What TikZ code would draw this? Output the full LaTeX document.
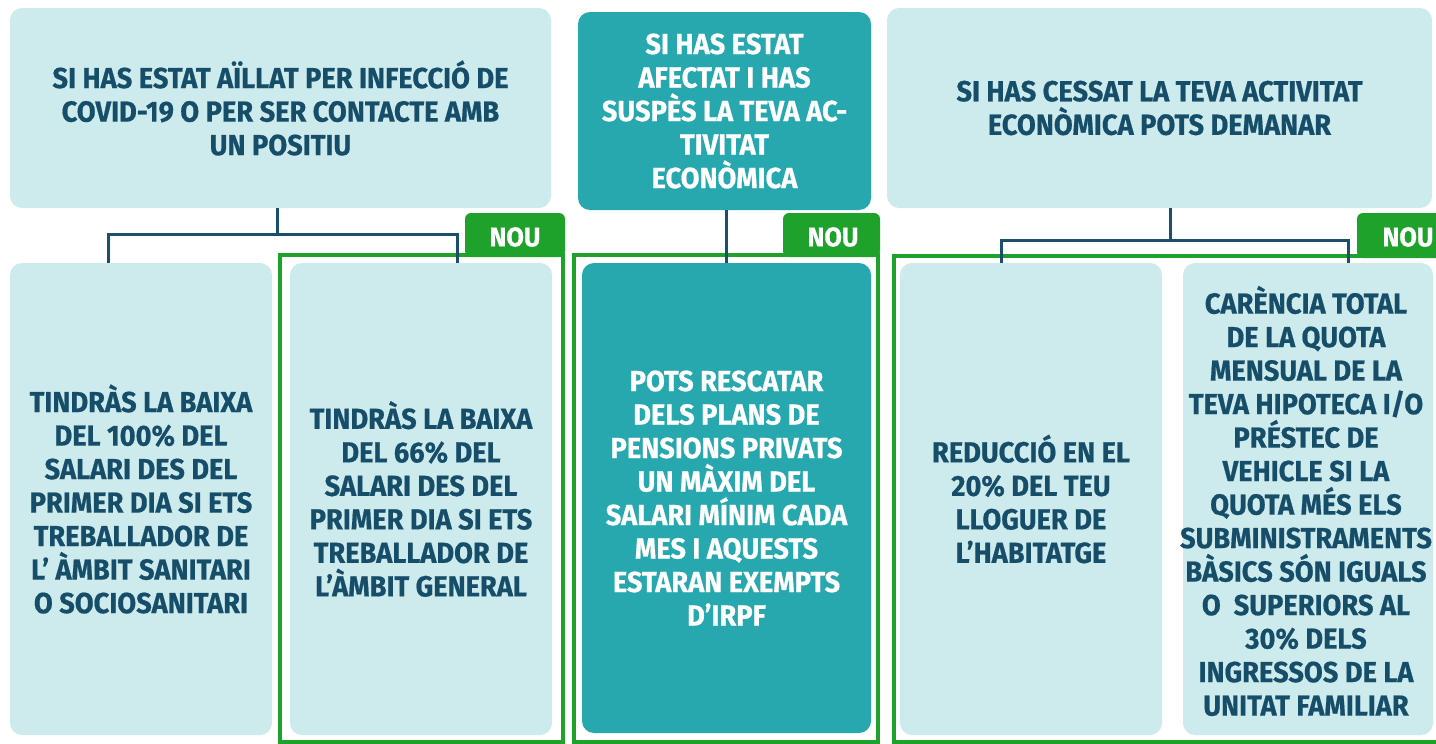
\documentclass[tikz,border=0pt]{standalone}
\usepackage{fontspec}
\setmainfont{Fira Sans}[FakeStretch=0.94, BoldFeatures={FakeBold=0.6}]
\definecolor{lightbox}{HTML}{CDEAED}
\definecolor{tealbox}{HTML}{27A7AE}
\definecolor{darktext}{HTML}{164E69}
\definecolor{connc}{HTML}{1B4F6B}
\definecolor{greenc}{HTML}{1FA22C}
\tikzset{
  box/.style={rounded corners=12pt, inner sep=0pt, anchor=center},
  lightb/.style={box, fill=lightbox, text=darktext},
  tealb/.style={box, fill=tealbox, text=white},
  txt/.style={align=center, font=\fontsize{29}{33.5}\selectfont\bfseries},
  conn/.style={draw=connc, line width=3pt},
  frame/.style={draw=greenc, line width=4pt},
  tab/.style={fill=greenc, rounded corners=6pt},
  noulabel/.style={text=white, font=\fontsize{27}{30}\selectfont\bfseries}
}
\begin{document}
\begin{tikzpicture}[x=1pt,y=-1pt]
\useasboundingbox (0,0) rectangle (1436,744);
\clip (0,0) rectangle (1436,744);
\fill[white] (0,0) rectangle (1436,744);

% top boxes
\node[lightb, minimum width=541pt, minimum height=200pt, txt] (A) at (280.5,108)
  {SI HAS ESTAT AÏLLAT PER INFECCIÓ DE\\COVID-19 O PER SER CONTACTE AMB\\UN POSITIU};
\node[tealb, minimum width=293pt, minimum height=198pt, txt] (B) at (724.5,111)
  {SI HAS ESTAT\\AFECTAT I HAS\\SUSPÈS LA TEVA AC-\\TIVITAT\\ECONÒMICA};
\node[lightb, minimum width=545pt, minimum height=200pt, txt] (C) at (1159.5,108)
  {SI HAS CESSAT LA TEVA ACTIVITAT\\ECONÒMICA POTS DEMANAR};

% green frames and tabs
\draw[frame] (280,255) rectangle (563,742);
\fill[tab] (465,257) -- (465,213) -- (565,213) -- (565,257) -- cycle;
\node[noulabel] (nou1) at (515,237) {NOU};
\draw[frame] (574,255) rectangle (878,742);
\fill[tab] (783,257) -- (783,213) -- (880,213) -- (880,257) -- cycle;
\node[noulabel] (nou2) at (833,237) {NOU};
\draw[frame] (894,256) rectangle (1450,742);
\fill[tab] (1357,258) -- (1357,213) -- (1460,213) -- (1460,258) -- cycle;
\node[noulabel] (nou3) at (1408,237) {NOU};

% bottom boxes
\node[lightb, minimum width=262pt, minimum height=472pt, txt] (D1) at (141,499)
  {TINDRÀS LA BAIXA\\DEL 100\% DEL\\SALARI DES DEL\\PRIMER DIA SI ETS\\TREBALLADOR DE\\L’ ÀMBIT SANITARI\\O SOCIOSANITARI};
\node[lightb, minimum width=262pt, minimum height=472pt, txt] (D2) at (421,499)
  {TINDRÀS LA BAIXA\\DEL 66\% DEL\\SALARI DES DEL\\PRIMER DIA SI ETS\\TREBALLADOR DE\\L’ÀMBIT GENERAL};
\node[tealb, minimum width=289pt, minimum height=470pt, txt] (E) at (726.5,498)
  {POTS RESCATAR\\DELS PLANS DE\\PENSIONS PRIVATS\\UN MÀXIM DEL\\SALARI MÍNIM CADA\\MES I AQUESTS\\ESTARAN EXEMPTS\\D’IRPF};
\node[lightb, minimum width=262pt, minimum height=472pt, txt] (F1) at (1031,499)
  {REDUCCIÓ EN EL\\20\% DEL TEU\\LLOGUER DE\\L’HABITATGE};
\node[lightb, minimum width=250pt, minimum height=472pt] (F2) at (1308,499) {};
\node[txt, text=darktext] (F2t) at (1306,501)
  {CARÈNCIA TOTAL\\DE LA QUOTA\\MENSUAL DE LA\\TEVA HIPOTECA I/O\\PRÉSTEC DE\\VEHICLE SI LA\\QUOTA MÉS ELS\\SUBMINISTRAMENTS\\BÀSICS SÓN IGUALS\\O\ \ SUPERIORS AL\\30\% DELS\\INGRESSOS DE LA\\UNITAT FAMILIAR};

% connectors
\coordinate (jA) at (277,234);
\coordinate (d1top) at (108,263);
\coordinate (d2top) at (457,263);
\draw[conn] (A.south -| jA) -- (jA);
\draw[conn] (d1top) |- (jA) -| (d2top);

\draw[conn] (B.south -| 726,0) -- (E.north -| 726,0);

\coordinate (jC) at (1170,240);
\coordinate (f1top) at (1001,263);
\coordinate (f2top) at (1348,263);
\draw[conn] (C.south -| jC) -- (jC);
\draw[conn] (f1top) |- (jC) -| (f2top);
\end{tikzpicture}
\end{document}
